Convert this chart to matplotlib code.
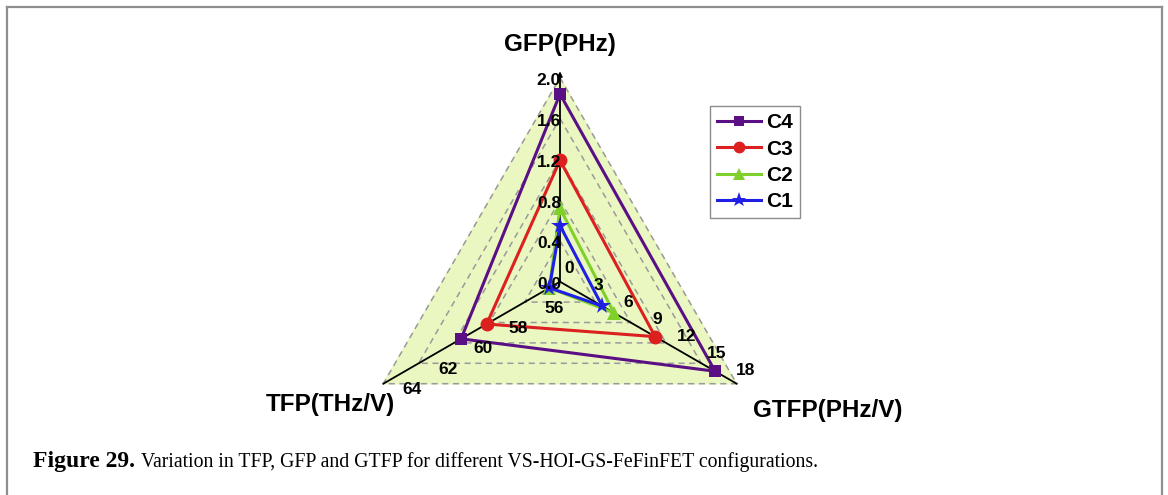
import numpy as np
import matplotlib
matplotlib.use("Agg")
import matplotlib.pyplot as plt
from matplotlib.lines import Line2D

# ---- data -------------------------------------------------------------
configs = ["C4", "C3", "C2", "C1"]
gfp = [1.84, 1.19, 0.72, 0.55]        # GFP (PHz)
tfp = [59.6, 58.15, 54.6, 54.6]       # TFP (THz/V)
gtfp = [15.8, 9.7, 5.5, 4.3]          # GTFP (PHz/V)

gfp_ticks = [0.0, 0.4, 0.8, 1.2, 1.6, 2.0]
tfp_ticks = [56, 58, 60, 62, 64]
gtfp_ticks = [0, 3, 6, 9, 12, 15, 18]

gfp_range = (0.0, 2.0)
tfp_range = (54.0, 64.0)
gtfp_range = (0.0, 18.0)

colors = ["#5a0f84", "#dc1f1f", "#7fd02a", "#1f1fe6"]
markers = ["s", "o", "^", "*"]
msizes = [8.5, 10, 10, 13]

# ---- figure & radar axes ---------------------------------------------
W, H, DPI = 1168, 495, 100
fig = plt.figure(figsize=(W / DPI, H / DPI), dpi=DPI)
fig.patch.set_facecolor("white")

cx, cy, R = 560.0, 281.7, 204.0          # radar centre / radius in pixels
left, right, top, bottom = 300, 860, 40, 440
ax = fig.add_axes([left / W, 1 - bottom / H, (right - left) / W, (bottom - top) / H])
ax.set_xlim((left - cx) / R, (right - cx) / R)
ax.set_ylim(-(bottom - cy) / R, (cy - top) / R)
ax.axis("off")

px = 1.0 / R   # one pixel in radar units

angles = {"gfp": np.deg2rad(90), "gtfp": np.deg2rad(-30), "tfp": np.deg2rad(210)}
order = ["gfp", "gtfp", "tfp"]
ranges = {"gfp": gfp_range, "gtfp": gtfp_range, "tfp": tfp_range}


def to_xy(axis, value):
    lo, hi = ranges[axis]
    f = (value - lo) / (hi - lo)
    a = angles[axis]
    return f * np.cos(a), f * np.sin(a)


def frac_xy(axis, f):
    a = angles[axis]
    return f * np.cos(a), f * np.sin(a)


# background fill and dashed grid triangles
outer = [frac_xy(k, 1.0) for k in order]
ax.fill([p[0] for p in outer], [p[1] for p in outer], color="#eaf7c1", zorder=0)
for lev in [0.2, 0.4, 0.6, 0.8, 1.0]:
    tri = [frac_xy(k, lev) for k in order] + [frac_xy(order[0], lev)]
    ax.plot([p[0] for p in tri], [p[1] for p in tri], ls=(0, (4, 3)),
            color="#9a9a9a", lw=1.1, zorder=1)

# spokes
for k in order:
    x1, y1 = frac_xy(k, 1.0)
    ax.plot([0, x1], [0, y1], color="black", lw=1.3, zorder=2)
ax.annotate("", xy=(0, 1.045), xytext=(0, 0.99),
            arrowprops=dict(arrowstyle="-|>", color="black", lw=1.2,
                            mutation_scale=7), zorder=2)

# series polygons
for name, g, t, gt, c, m, ms in zip(configs, gfp, tfp, gtfp, colors, markers, msizes):
    pts = [to_xy("gfp", g), to_xy("gtfp", gt), to_xy("tfp", t)]
    xs = [p[0] for p in pts] + [pts[0][0]]
    ys = [p[1] for p in pts] + [pts[0][1]]
    ax.plot(xs, ys, color=c, lw=2.2, marker=m, markersize=ms,
            markevery=[0, 1, 2], markeredgewidth=0, zorder=4, label=name)

tick_kw = dict(fontsize=12.5, fontweight="bold", family="Liberation Sans", zorder=5)

# GFP tick labels (left of the vertical spoke)
for v in gfp_ticks:
    x, y = to_xy("gfp", v)
    ax.text(x + 1 * px, y - 3 * px, f"{v:.1f}", ha="right", va="center", **tick_kw)

# TFP tick labels (to the right of the lower-left spoke)
for v in tfp_ticks:
    x, y = to_xy("tfp", v)
    ax.text(x + 29 * px, y - 6 * px, f"{v}", ha="center", va="center", **tick_kw)

# GTFP tick labels (above the lower-right spoke)
for v in gtfp_ticks:
    x, y = to_xy("gtfp", v)
    ax.text(x + 9 * px, y + 13 * px, f"{v}", ha="center", va="center", **tick_kw)

# axis titles
title_kw = dict(fontsize=17.5, fontweight="bold", family="Liberation Sans",
                ha="center", va="center")
fig.text(560 / W, 1 - 45 / H, "GFP(PHz)", **title_kw)
fig.text(330 / W, 1 - 404 / H, "TFP(THz/V)", **title_kw)
fig.text(828 / W, 1 - 410 / H, "GTFP(PHz/V)", **title_kw)

# legend
handles = [Line2D([], [], color=c, lw=2.2, marker=m, markersize=ms * 0.85,
                  markeredgewidth=0) for c, m, ms in zip(colors, markers, msizes)]
leg = fig.legend(handles, configs, loc="upper left",
                 bbox_to_anchor=(710 / W, 1 - 106 / H),
                 prop=dict(family="Liberation Sans", weight="bold", size=15),
                 frameon=True, fancybox=False, edgecolor="#707070",
                 handlelength=2.1, handletextpad=0.25, labelspacing=0.35,
                 borderpad=0.35, borderaxespad=0)
leg.get_frame().set_linewidth(1.0)

# caption
cap_y = 1 - 462 / H
t1 = fig.text(33 / W, cap_y, "Figure 29.", fontsize=17, fontweight="bold",
              family="Liberation Serif", ha="left", va="center")
fig.canvas.draw()
bb = t1.get_window_extent()
fig.text((bb.x1 + 6) / W, cap_y,
         "Variation in TFP, GFP and GTFP for different VS-HOI-GS-FeFinFET configurations.",
         fontsize=14.2, family="Liberation Serif", ha="left", va="center")

# page frame
frame_kw = dict(color="#8f8f8f", lw=1.6, transform=fig.transFigure)
fig.add_artist(Line2D([6.5 / W, 1161.5 / W], [1 - 6.5 / H, 1 - 6.5 / H], **frame_kw))
fig.add_artist(Line2D([6.5 / W, 6.5 / W], [0, 1 - 6.5 / H], **frame_kw))
fig.add_artist(Line2D([1161.5 / W, 1161.5 / W], [0, 1 - 6.5 / H], **frame_kw))

fig.savefig("out.png", dpi=DPI)
